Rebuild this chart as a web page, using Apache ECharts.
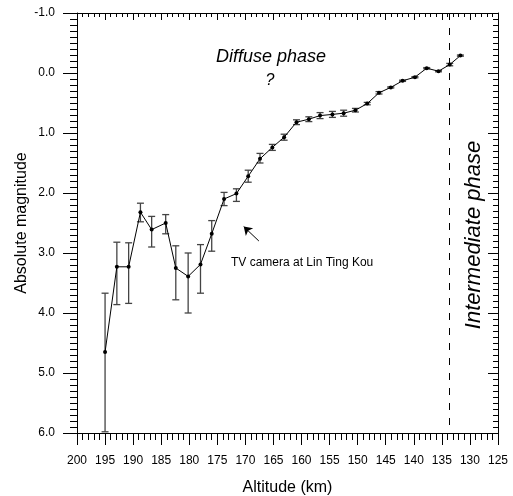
<!DOCTYPE html>
<html>
<head>
<meta charset="utf-8">
<script src="https://cdn.jsdelivr.net/npm/echarts@6/dist/echarts.min.js"></script>
<style>
  html, body { margin: 0; padding: 0; background: #fff; }
  #main { width: 513px; height: 496px; }
</style>
</head>
<body>
<div id="main"></div>
<script>
// altitude (km) of each measurement
var altitude = [195.0, 192.9, 190.8, 188.7, 186.7, 184.2, 182.4, 180.2, 178.0, 176.0, 173.8, 171.6,
  169.5, 167.4, 165.2, 163.1, 160.9, 158.7, 156.7, 154.5, 152.5, 150.4, 148.3, 146.2, 144.1,
  142.0, 139.8, 137.7, 135.6, 133.6, 131.7];
// absolute magnitude
var magnitude = [4.65, 3.23, 3.23, 2.32, 2.61, 2.50, 3.25, 3.39, 3.19, 2.68, 2.10, 2.01,
  1.72, 1.43, 1.24, 1.07, 0.82, 0.77, 0.71, 0.69, 0.67, 0.62, 0.51, 0.33, 0.24,
  0.13, 0.07, -0.08, -0.03, -0.14, -0.29];
// error bar ends
var errTop = [3.67, 2.82, 2.83, 2.17, 2.39, 2.36, 2.88, 3.00, 2.86, 2.46, 1.99, 1.93,
  1.62, 1.34, 1.19, 1.02, 0.78, 0.73, 0.66, 0.64, 0.62, 0.59, 0.49, 0.31, 0.23,
  0.12, 0.06, -0.09, -0.04, -0.16, -0.30];
var errBottom = [5.98, 3.86, 3.84, 2.48, 2.90, 2.68, 3.78, 4.00, 3.67, 2.97, 2.21, 2.14,
  1.82, 1.50, 1.29, 1.12, 0.86, 0.81, 0.76, 0.74, 0.72, 0.65, 0.53, 0.35, 0.25,
  0.14, 0.08, -0.07, -0.02, -0.12, -0.28];
var phaseLine = 133.6;
var arrowFrom = [167.6, 2.80];
var arrowTo = [170.3, 2.56];

var font = '"Liberation Sans", Arial, sans-serif';

var points = altitude.map(function (a, i) { return [a, magnitude[i]]; });
var bars = altitude.map(function (a, i) { return [a, errTop[i], errBottom[i]]; });

var myChart = echarts.init(document.getElementById('main'));

var tickStyle = { color: '#000', width: 1 };

var option = {
  animation: false,
  textStyle: { fontFamily: font },
  grid: { left: 77, right: 15, top: 13, bottom: 63, containLabel: false, outerBoundsMode: 'none' },
  xAxis: [
    {
      type: 'value', position: 'bottom', min: 125, max: 200, interval: 5, inverse: true,
      name: 'Altitude (km)', nameLocation: 'middle', nameGap: 47,
      nameTextStyle: { fontSize: 16, color: '#000', fontFamily: font },
      axisLine: { onZero: false, lineStyle: tickStyle },
      axisTick: { inside: false, length: 12, lineStyle: tickStyle },
      minorTick: { show: true, splitNumber: 5, length: 7, lineStyle: tickStyle },
      axisLabel: { margin: 22, fontSize: 12, color: '#000', fontFamily: font },
      splitLine: { show: false }
    },
    {
      type: 'value', position: 'top', min: 125, max: 200, interval: 5, inverse: true,
      axisLine: { onZero: false, lineStyle: tickStyle },
      axisTick: { inside: true, length: 7, lineStyle: tickStyle },
      minorTick: { show: true, splitNumber: 5, length: 4, lineStyle: tickStyle },
      axisLabel: { show: false },
      splitLine: { show: false }
    }
  ],
  yAxis: [
    {
      type: 'value', position: 'left', min: -1, max: 6, interval: 1, inverse: true,
      name: 'Absolute magnitude', nameLocation: 'middle', nameGap: 47, nameMoveOverlap: false,
      nameTextStyle: { fontSize: 16, color: '#000', fontFamily: font },
      axisLine: { onZero: false, lineStyle: tickStyle },
      axisTick: { inside: false, length: 14, lineStyle: tickStyle },
      minorTick: { show: true, splitNumber: 10, length: 7, lineStyle: tickStyle },
      axisLabel: {
        margin: 22, fontSize: 12, color: '#000', fontFamily: font,
        showMinLabel: true, showMaxLabel: true,
        formatter: function (v) { return v.toFixed(1); }
      },
      splitLine: { show: false }
    },
    {
      type: 'value', position: 'right', min: -1, max: 6, interval: 1, inverse: true,
      axisLine: { onZero: false, lineStyle: tickStyle },
      axisTick: { inside: true, length: 10, lineStyle: tickStyle },
      minorTick: { show: true, splitNumber: 10, length: 5, lineStyle: tickStyle },
      axisLabel: { show: false },
      splitLine: { show: false }
    }
  ],
  series: [
    {
      type: 'custom',
      name: 'error',
      data: bars,
      renderItem: function (params, api) {
        var a = api.value(0);
        var top = api.coord([a, api.value(1)]);
        var bot = api.coord([a, api.value(2)]);
        var hw = 3.5;
        var st = { stroke: '#444', lineWidth: 1.3 };
        return {
          type: 'group',
          children: [
            { type: 'line', shape: { x1: top[0], y1: top[1], x2: bot[0], y2: bot[1] }, style: st },
            { type: 'line', shape: { x1: top[0] - hw, y1: top[1], x2: top[0] + hw, y2: top[1] }, style: st },
            { type: 'line', shape: { x1: bot[0] - hw, y1: bot[1], x2: bot[0] + hw, y2: bot[1] }, style: st }
          ]
        };
      },
      z: 2
    },
    {
      type: 'line',
      name: 'magnitude',
      data: points,
      symbol: 'circle',
      symbolSize: 4,
      showSymbol: true,
      itemStyle: { color: '#000' },
      lineStyle: { color: '#000', width: 1 },
      z: 3,
      markLine: {
        silent: true,
        symbol: 'none',
        label: { show: false },
        lineStyle: { color: '#000', width: 1, type: [7, 8] },
        data: [{ xAxis: phaseLine }]
      }
    },
    {
      type: 'line',
      name: 'arrow',
      data: [],
      markLine: {
        silent: true,
        symbol: ['none', 'arrow'],
        symbolSize: 8,
        label: { show: false },
        lineStyle: { color: '#000', width: 1, type: 'solid' },
        data: [[{ coord: arrowFrom }, { coord: arrowTo }]]
      }
    }
  ],
  graphic: [
    {
      type: 'text', x: 271, y: 57,
      style: { text: 'Diffuse phase', font: 'italic 18px ' + font, fill: '#000', textAlign: 'center', textVerticalAlign: 'middle' }
    },
    {
      type: 'text', x: 270, y: 81,
      style: { text: '?', font: 'italic 16px ' + font, fill: '#000', textAlign: 'center', textVerticalAlign: 'middle' }
    },
    {
      type: 'text', x: 231, y: 263,
      style: { text: 'TV camera at Lin Ting Kou', font: '12px ' + font, fill: '#000', textAlign: 'left', textVerticalAlign: 'middle' }
    },
    {
      type: 'text', x: 474, y: 235, rotation: Math.PI / 2,
      style: { text: 'Intermediate phase', font: 'italic 22px ' + font, fill: '#000', textAlign: 'center', textVerticalAlign: 'middle' }
    }
  ]
};

myChart.setOption(option);
</script>
</body>
</html>
